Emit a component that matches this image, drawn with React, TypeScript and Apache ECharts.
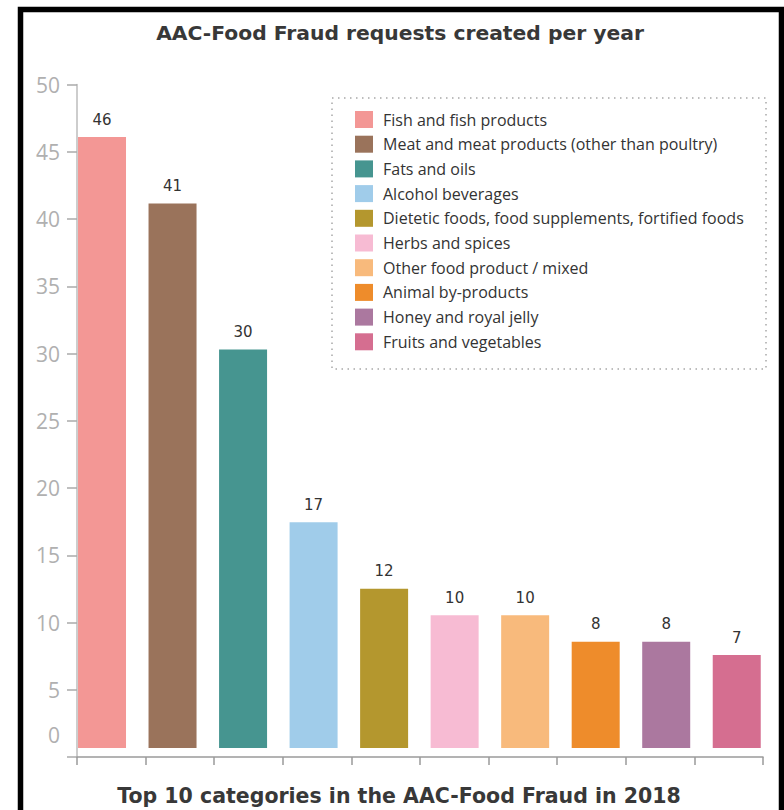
import { useEffect, useRef } from "react";
import * as echarts from "echarts";

// Top 10 categories and their request counts
const categories = [
  "Fish and fish products",
  "Meat and meat products (other than poultry)",
  "Fats and oils",
  "Alcohol beverages",
  "Dietetic foods, food supplements, fortified foods",
  "Herbs and spices",
  "Other food product / mixed",
  "Animal by-products",
  "Honey and royal jelly",
  "Fruits and vegetables",
];
const requests = [46, 41, 30, 17, 12, 10, 10, 8, 8, 7];
const barColors = [
  "#F39795",
  "#9A735B",
  "#469590",
  "#A0CCEA",
  "#B4972E",
  "#F7BBD3",
  "#F8BA7C",
  "#EE8C2B",
  "#AB789F",
  "#D56E90",
];

const titleText = "AAC-Food Fraud requests created per year";
const footerText = "Top 10 categories in the AAC-Food Fraud in 2018";

const W = 784;
const H = 810;

export default function App() {
  const ref = useRef<HTMLDivElement>(null);

  useEffect(() => {
    if (!ref.current) return;
    const chart = echarts.init(ref.current, null, { renderer: "svg" });

    // one series per category so each gets its own legend entry; all share a slot via barGap -100%
    const series = categories.map((name, i) => ({
      name,
      type: "bar",
      xAxisIndex: 0,
      yAxisIndex: 0,
      barWidth: 48,
      barGap: "-100%",
      itemStyle: { color: barColors[i] },
      label: {
        show: true,
        position: "top",
        distance: 10,
        color: "#333",
        fontFamily: "DejaVu Sans",
        fontSize: 15,
      },
      data: requests.map((v, j) => (j === i ? v : "-")),
    }));

    chart.setOption({
      animation: false,
      backgroundColor: "#fff",
      grid: [
        // bars
        { left: 66.75, right: W - 772, top: 84, bottom: H - 748 },
        // visible axes
        { left: 77, right: W - 763, top: 84.5, bottom: H - 757 },
      ],
      xAxis: [
        {
          gridIndex: 0,
          type: "category",
          data: categories,
          show: false,
        },
        {
          gridIndex: 1,
          type: "category",
          data: categories,
          axisLine: { lineStyle: { color: "#9a9a9a", width: 1.5 } },
          axisTick: {
            show: true,
            interval: 0,
            length: 8,
            lineStyle: { color: "#9a9a9a", width: 1.5 },
          },
          axisLabel: { show: false, interval: 0 },
        },
      ],
      yAxis: [
        {
          gridIndex: 0,
          type: "value",
          min: 0,
          max: 50,
          show: false,
        },
        {
          gridIndex: 1,
          type: "value",
          min: 0,
          max: 50,
          interval: 5,
          splitLine: { show: false },
          axisLine: { show: true, lineStyle: { color: "#bdbdbd", width: 1.5 } },
          axisTick: { show: true, length: 10, lineStyle: { color: "#aaaaaa", width: 1.5 } },
          axisLabel: {
            margin: 17,
            color: "#b0b0b0",
            fontFamily: "Open Sans",
            fontSize: 21,
            formatter: (v: number) => (v === 0 ? "{lift|0}" : String(v)),
            rich: {
              lift: {
                color: "#b0b0b0",
                fontFamily: "Open Sans",
                fontSize: 21,
                padding: [0, 0, 44, 0],
              },
            },
          },
        },
      ],
      legend: {
        orient: "vertical",
        left: 355,
        top: 111,
        padding: 0,
        icon: "rect",
        itemWidth: 18,
        itemHeight: 17,
        itemGap: 7.7,
        selectedMode: false,
        textStyle: {
          fontFamily: "Open Sans",
          fontSize: 16,
          color: "#333",
          lineHeight: 17,
          padding: [0, 0, 0, 5],
        },
        data: categories,
      },
      graphic: [
        {
          type: "rect",
          z: 0,
          shape: { x: 332, y: 98, width: 434, height: 271 },
          style: { fill: "none", stroke: "#a8a8a8", lineWidth: 1.5, lineDash: [1.5, 4.5] },
        },
        {
          type: "rect",
          z: 100,
          shape: { x: 20.5, y: 9.5, width: 761, height: 900 },
          style: { fill: "none", stroke: "#000", lineWidth: 5.5 },
        },
        {
          type: "text",
          z: 100,
          x: 400,
          y: 33,
          style: {
            text: titleText,
            fontFamily: "DejaVu Sans",
            fontWeight: "bold",
            fontSize: 20.3,
            fill: "#383838",
            align: "center",
            verticalAlign: "middle",
          },
        },
        {
          type: "text",
          z: 100,
          x: 399,
          y: 796,
          style: {
            text: footerText,
            fontFamily: "DejaVu Sans",
            fontWeight: "bold",
            fontSize: 20.5,
            fill: "#383838",
            align: "center",
            verticalAlign: "middle",
          },
        },
      ],
      series,
    });

    return () => chart.dispose();
  }, []);

  return (
    <div
      ref={ref}
      style={{ position: "fixed", left: 0, top: 0, width: W, height: H }}
    />
  );
}
